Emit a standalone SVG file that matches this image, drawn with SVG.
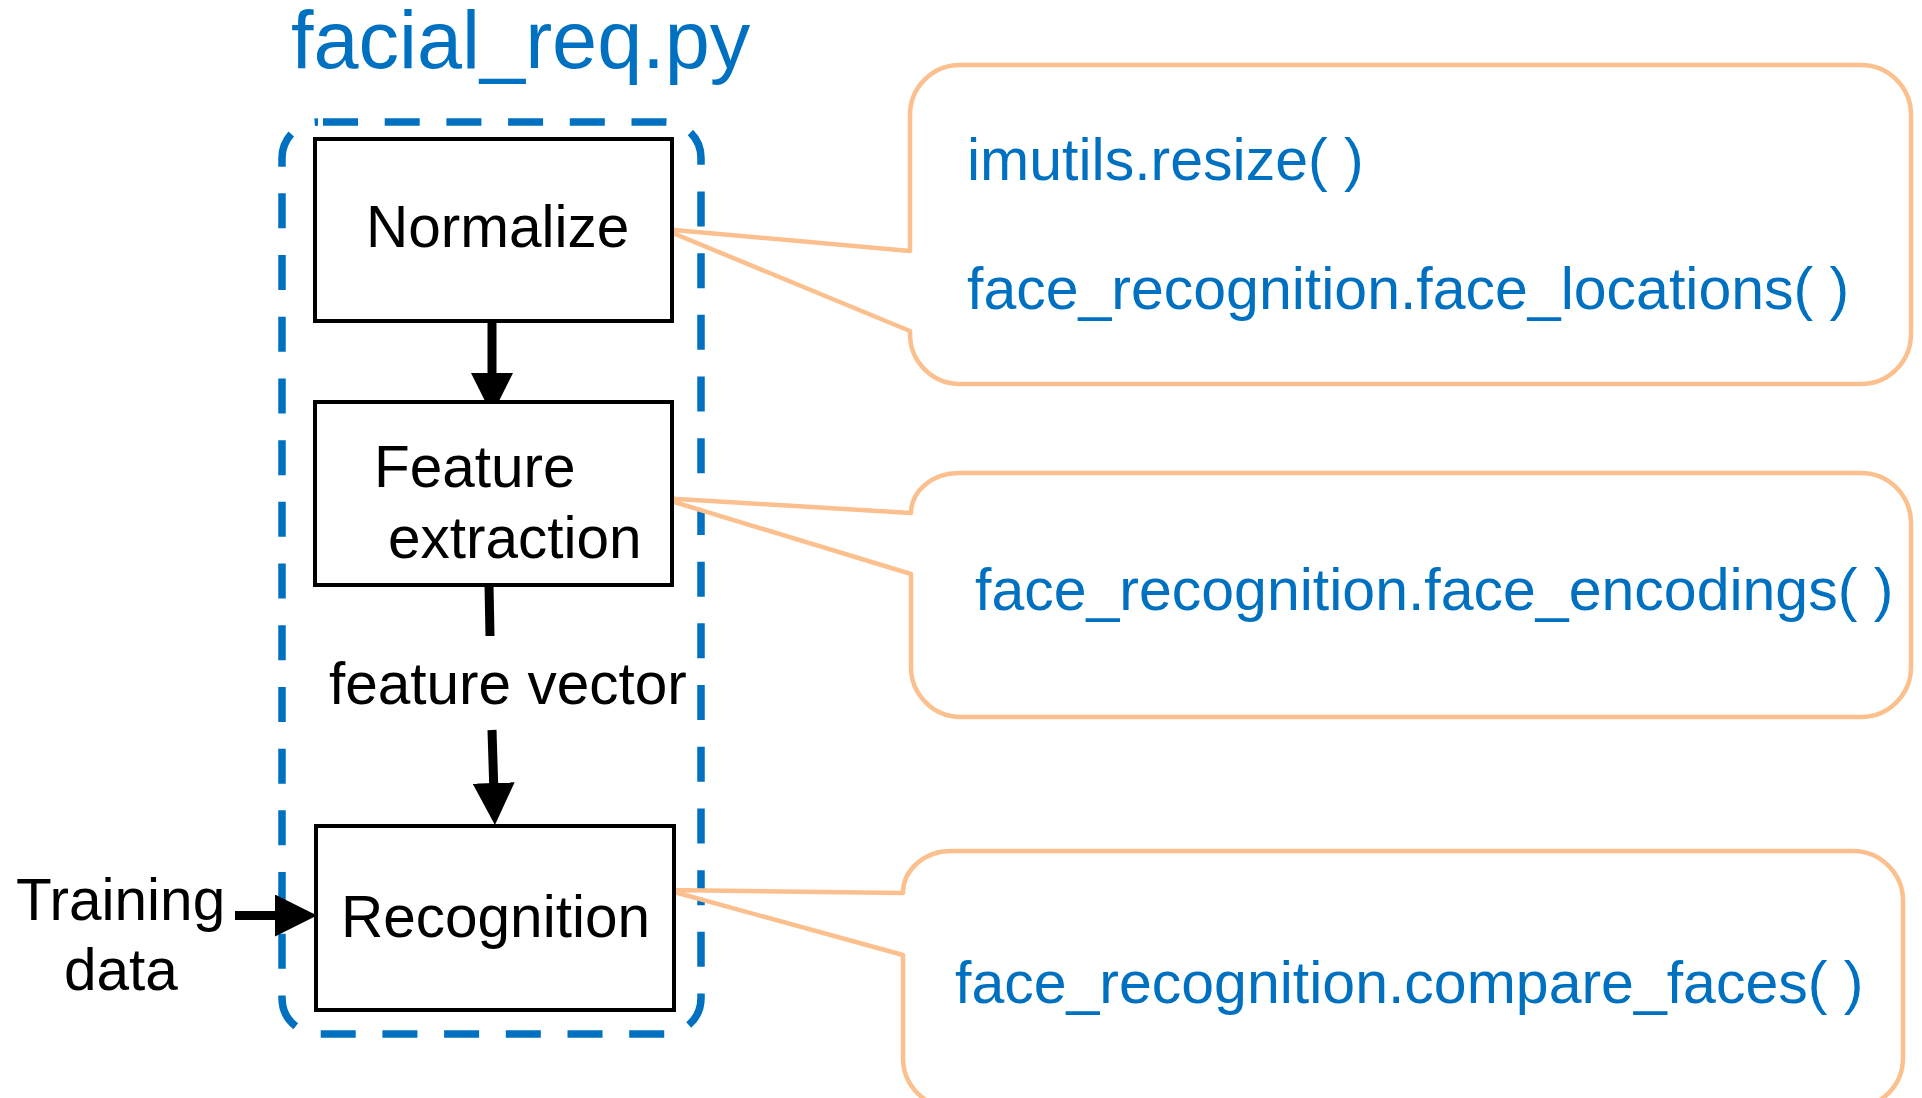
<svg xmlns="http://www.w3.org/2000/svg" width="1922" height="1098" viewBox="0 0 1922 1098">
  <style>
    .lbl { font-family: "Liberation Sans", Arial, sans-serif; font-size: 58.5px; fill: #000; }
    .code { font-family: "Liberation Sans", Arial, sans-serif; font-size: 59px; fill: #0070C0; }
    .title { font-family: "Liberation Sans", Arial, sans-serif; font-size: 81px; fill: #0070C0; }
    .box { fill: #fff; stroke: #000; stroke-width: 4; }
    .flow { stroke: #000; stroke-width: 9; fill: none; marker-end: url(#head); }
    .bubble { fill: #fff; stroke: #FBC08E; stroke-width: 4.5; stroke-linejoin: round; }
    .frame { fill: none; stroke: #0070C0; stroke-width: 7.5; stroke-dasharray: 35 26.7; stroke-dashoffset: -5; }
  </style>
  <defs>
    <marker id="head" markerUnits="userSpaceOnUse" viewBox="0 0 42 42" refX="12" refY="21" markerWidth="42" markerHeight="42" orient="auto">
      <path d="M0,0 L42,21 L0,42 Z" fill="#000"/>
    </marker>
  </defs>

  <rect width="1922" height="1098" fill="#fff"/>

  <!-- module title and dashed module frame -->
  <text class="title" x="291" y="68">facial_req.py</text>
  <rect id="module-frame" class="frame" x="282" y="122" width="419" height="912" rx="36" ry="36"/>

  <!-- call-out bubbles listing the library functions used by each stage -->
  <g id="note-normalize">
    <path class="bubble" d="M960,65 H1861 A50,50 0 0 1 1911,115 V334 A50,50 0 0 1 1861,384 H960 A50,50 0 0 1 910,334 V331 L663,229 L910,251 V115 A50,50 0 0 1 960,65 Z"/>
    <text class="code" x="967" y="180">imutils.resize( )</text>
    <text class="code" x="967" y="309">face_recognition.face_locations( )</text>
  </g>
  <g id="note-features">
    <path class="bubble" d="M959,473 H1861 A50,50 0 0 1 1911,523 V667 A50,50 0 0 1 1861,717 H961 A50,50 0 0 1 911,667 V574 L661,498 L911,513 A48,40 0 0 1 959,473 Z"/>
    <text class="code" x="975" y="610">face_recognition.face_encodings( )</text>
  </g>
  <g id="note-recognition">
    <path class="bubble" d="M951,851 H1853 A50,50 0 0 1 1903,901 V1058 A50,50 0 0 1 1853,1108 H953 A50,50 0 0 1 903,1058 V955 L667,890 L903,893 A48,42 0 0 1 951,851 Z"/>
    <text class="code" x="955" y="1003">face_recognition.compare_faces( )</text>
  </g>

  <!-- connectors -->
  <g id="connectors">
    <line class="flow" x1="492" y1="321" x2="492" y2="385"/>
    <line x1="489" y1="585" x2="490" y2="636" stroke="#000" stroke-width="9"/>
    <line class="flow" x1="492" y1="730" x2="494" y2="795"/>
    <line class="flow" x1="235" y1="915.5" x2="287" y2="915.5"/>
  </g>

  <!-- processing stages -->
  <g id="normalize">
    <rect class="box" x="315" y="139" width="357" height="182"/>
    <text class="lbl" x="366" y="247">Normalize</text>
  </g>
  <g id="feature-extraction">
    <rect class="box" x="315" y="402" width="357" height="183"/>
    <text class="lbl" x="374" y="487">Feature</text>
    <text class="lbl" x="388" y="558">extraction</text>
  </g>
  <g id="feature-vector">
    <text class="lbl" x="329" y="704">feature vector</text>
  </g>
  <g id="recognition">
    <rect class="box" x="316" y="826" width="358" height="184"/>
    <text class="lbl" x="341" y="937">Recognition</text>
  </g>
  <g id="training-data">
    <text class="lbl" x="16" y="920">Training</text>
    <text class="lbl" x="64" y="990">data</text>
  </g>
</svg>
